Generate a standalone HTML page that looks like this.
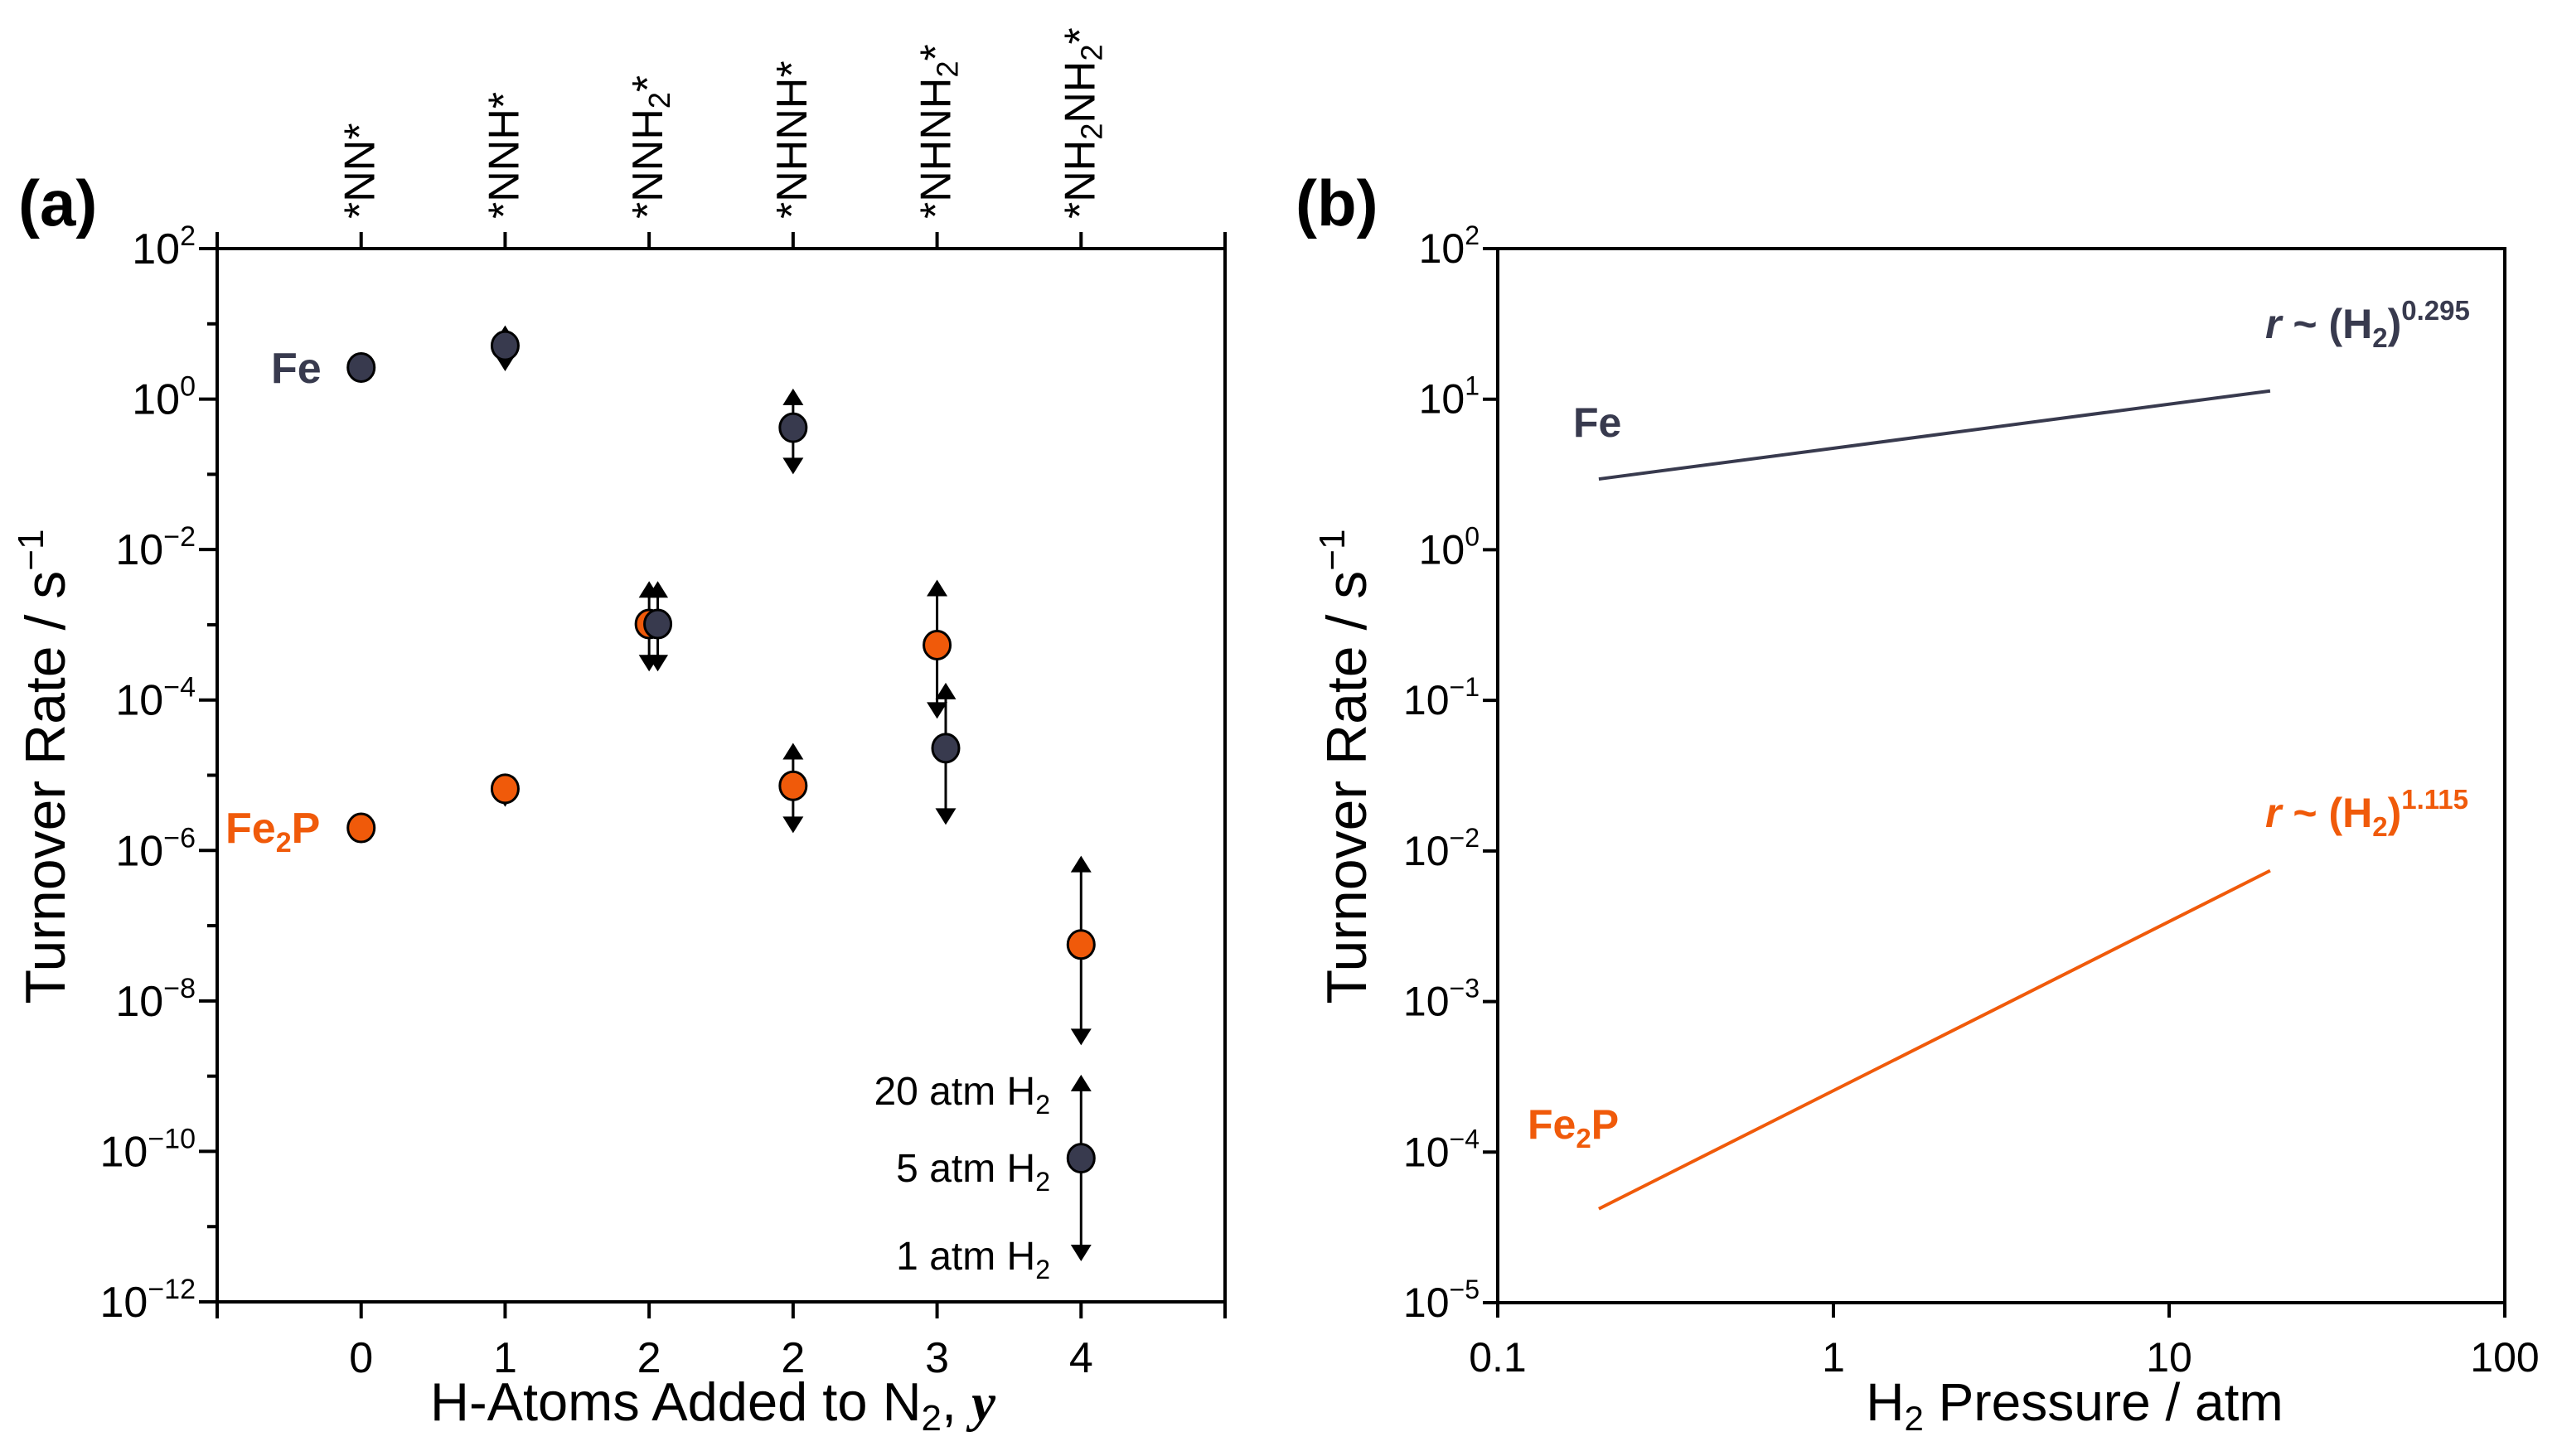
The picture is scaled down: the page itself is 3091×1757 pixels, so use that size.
<!DOCTYPE html>
<html><head><meta charset="utf-8"><style>
html,body{margin:0;padding:0;background:#fff;}
svg{display:block;font-family:"Liberation Sans",sans-serif;}
.narrow{font-family:"Liberation Sans Narrow","Liberation Sans",sans-serif;}
</style></head><body>
<svg id="fig" width="3091" height="1757" viewBox="0 0 3091 1757" xmlns="http://www.w3.org/2000/svg">
<g id="pa"></g>
<g id="pb"></g>
</svg>
<script>
// ---------- Panel (a) data ----------
const aCategories = ["*NN*","*NNH*","*NNH2*","*NHNH*","*NHNH2*","*NH2NH2*"];
const aBottomLabels = ["0","1","2","2","3","4"];
const aYTickExps = [2,0,-2,-4,-6,-8,-10,-12];
// log10 turnover rate: center, upper (20 atm), lower (1 atm); null = no arrows
const feCenter = [0.42, 0.71, -2.99, -0.38, -4.64, -10.09];
const feHigh   = [null, 0.98, -2.42, 0.14, -3.77, -8.98];
const feLow    = [null, 0.37, -3.62, -1.0, -5.66, -11.46];
const feOffset = [0, 0, 0.06, 0, 0.06, 0];
const fe2pCenter = [-5.70, -5.18, -2.99, -5.14, -3.27, -7.25];
const fe2pHigh   = [null, -4.98, -2.42, -4.57, -2.40, -6.07];
const fe2pLow    = [null, -5.42, -3.62, -5.77, -4.25, -8.59];
// ---------- Panel (b) data ----------
const bXTicks = [0.1, 1, 10, 100];
const bXTickLabels = ["0.1","1","10","100"];
const bYTickExps = [2,1,0,-1,-2,-3,-4,-5];
const fePressure = [0.2, 20];
const feRate = [2.95, 11.35];
const fe2pPressure = [0.2, 20];
const fe2pRate = [4.2e-5, 7.4e-3];

const NS="http://www.w3.org/2000/svg";
function mk(parent,tag,attrs){const e=document.createElementNS(NS,tag);for(const k in attrs)e.setAttribute(k,attrs[k]);parent.appendChild(e);return e;}
const FE="#383a4e", FE2P="#f05a0a";

// ===== Panel a =====
const pa=document.getElementById('pa');
const aL=262,aR=1478,aT=300,aB=1571;
const ax=v=>aL+(v+1)*(aR-aL)/7;
const ay=L=>aT+(2-L)*(aB-aT)/14;
let fr=mk(pa,'rect',{x:aL,y:aT,width:aR-aL,height:aB-aT,fill:'none',stroke:'#000','stroke-width':4});


for(let i=-1;i<=6;i++){
  const t1=mk(pa,'line',{x1:ax(i),x2:ax(i),y1:aB,y2:aB+20,stroke:'#000','stroke-width':4});
  
  
  const t2=mk(pa,'line',{x1:ax(i),x2:ax(i),y1:aT,y2:aT-20,stroke:'#000','stroke-width':4});
  
  
}
aBottomLabels.forEach((s,i)=>{
  const t=mk(pa,'text',{x:ax(i),y:1656,'text-anchor':'middle','font-size':52,class:'narrow'});t.textContent=s;
  
  
});
const topLabelHTML=['*NN*','*NNH*','*NNH<tspan font-size="36" dy="9">2</tspan><tspan dy="-9">*</tspan>','*NHNH*','*NHNH<tspan font-size="36" dy="9">2</tspan><tspan dy="-9">*</tspan>','*NH<tspan font-size="36" dy="9">2</tspan><tspan dy="-9">NH</tspan><tspan font-size="36" dy="9">2</tspan><tspan dy="-9">*</tspan>'];
aCategories.forEach((c,i)=>{
  const t=mk(pa,'text',{x:0,y:0,'font-size':52,transform:`translate(${ax(i)+16},264) rotate(-90)`});
  t.innerHTML=topLabelHTML[i];
  
  
});
for(let L=2;L>=-12;L--){
  const maj=(L%2===0);
  const t=mk(pa,'line',{x1:aL,x2:aL-(maj?22:12),y1:ay(L),y2:ay(L),stroke:'#000','stroke-width':4});
  
  
}
aYTickExps.forEach(e=>{
  const t=mk(pa,'text',{x:aL-26,y:ay(e)+18,'text-anchor':'end','font-size':52,class:'narrow'});
  t.innerHTML=`10<tspan font-size="34" dy="-22">${e<0?'\u2212'+(-e):e}</tspan>`;
  
  
});
function arrowHead(g,x,yTip,up){
  const h=20,w=12.5;const yb=up?yTip+h:yTip-h;
  const p=mk(g,'polygon',{points:`${x},${yTip} ${x-w},${yb} ${x+w},${yb}`,fill:'#000'});
  
  
}
function series(center,high,low,offset,color,name){
  const g=mk(pa,'g',{});
  
  
  center.forEach((c,i)=>{
    const x=ax(i+offset[i]);
    if(high[i]!==null){
      const l=mk(g,'line',{x1:x,x2:x,y1:ay(high[i])+10,y2:ay(low[i])-10,stroke:'#000','stroke-width':3});
      
      
      arrowHead(g,x,ay(high[i]),true);arrowHead(g,x,ay(low[i]),false);
    }
    const m=mk(g,'ellipse',{cx:x,cy:ay(c),rx:16,ry:17,fill:color,stroke:'#000','stroke-width':3});
    
    
  });
}
series(fe2pCenter,fe2pHigh,fe2pLow,[0,0,0,0,0,0],FE2P,'fe2p');
series(feCenter,feHigh,feLow,feOffset,FE,'fe');
</script>
<script>
(function(){
const pa=document.getElementById('pa');
function T(parent,attrs,html,name){const e=document.createElementNS(NS,'text');for(const k in attrs)e.setAttribute(k,attrs[k]);e.innerHTML=html;parent.appendChild(e);

return e;}
T(pa,{x:22,y:272,'font-size':78,'font-weight':'bold'},'(a)','panel-a-label');
T(pa,{x:327,y:462,'font-size':52,'font-weight':'bold',fill:FE},'Fe','fe-label-a');
T(pa,{x:272,y:1017,'font-size':52,'font-weight':'bold',fill:FE2P},'Fe<tspan font-size="34" dy="11">2</tspan><tspan dy="-11">P</tspan>','fe2p-label-a');
T(pa,{x:1267,y:1333,'font-size':48,'text-anchor':'end'},'20 atm H<tspan font-size="32" dy="11">2</tspan>','legend-20atm');
T(pa,{x:1267,y:1426,'font-size':48,'text-anchor':'end'},'5 atm H<tspan font-size="32" dy="11">2</tspan>','legend-5atm');
T(pa,{x:1267,y:1532,'font-size':48,'text-anchor':'end'},'1 atm H<tspan font-size="32" dy="11">2</tspan>','legend-1atm');
T(pa,{x:860,y:1714,'font-size':65,'text-anchor':'middle',class:'narrow'},'H-Atoms Added to N<tspan font-size="44" dy="12">2</tspan><tspan dy="-12">, </tspan><tspan font-family="Liberation Serif" font-style="italic" font-weight="bold">y</tspan>','x-axis-title-a');
T(pa,{x:0,y:0,'font-size':68,'text-anchor':'middle',transform:'translate(78,925) rotate(-90)'},'Turnover Rate / s<tspan font-size="44" dy="-26">\u22121</tspan>','y-axis-title-a');
})();
</script>
<script>
// ===== Panel b =====
const pb=document.getElementById('pb');
const bL=1807,bR=3022,bT=300,bB=1572;
const bx=p=>bL+(Math.log10(p)+1)*(bR-bL)/3;
const by=v=>bT+(2-Math.log10(v))*(bB-bT)/7;
const byL=L=>bT+(2-L)*(bB-bT)/7;
let frb=mk(pb,'rect',{x:bL,y:bT,width:bR-bL,height:bB-bT,fill:'none',stroke:'#000','stroke-width':4});


bXTicks.forEach((p,i)=>{
  const t=mk(pb,'line',{x1:bx(p),x2:bx(p),y1:bB,y2:bB+18,stroke:'#000','stroke-width':4});
  
  
  const l=mk(pb,'text',{x:bx(p),y:1655,'text-anchor':'middle','font-size':50});l.textContent=bXTickLabels[i];
  
  
});
bYTickExps.forEach((e,i)=>{
  const y=byL(2-i);
  const t=mk(pb,'line',{x1:bL,x2:bL-18,y1:y,y2:y,stroke:'#000','stroke-width':4});
  
  
  const l=mk(pb,'text',{x:bL-22,y:y+17,'text-anchor':'end','font-size':50});
  l.innerHTML=`10<tspan font-size="32" dy="-22">${e<0?'\u2212'+(-e):e}</tspan>`;
  
  
});
const feLine=mk(pb,'polyline',{points:fePressure.map((p,i)=>bx(p)+','+by(feRate[i])).join(' '),fill:'none',stroke:FE,'stroke-width':4});


const fe2pLine=mk(pb,'polyline',{points:fe2pPressure.map((p,i)=>bx(p)+','+by(fe2pRate[i])).join(' '),fill:'none',stroke:FE2P,'stroke-width':4});


(function(){
function T(attrs,html,name){const e=document.createElementNS(NS,'text');for(const k in attrs)e.setAttribute(k,attrs[k]);e.innerHTML=html;pb.appendChild(e);

return e;}
T({x:1563,y:272,'font-size':78,'font-weight':'bold'},'(b)','panel-b-label');
T({x:1898,y:527,'font-size':50,'font-weight':'bold',fill:FE},'Fe','fe-label-b');
T({x:1843,y:1374,'font-size':50,'font-weight':'bold',fill:FE2P},'Fe<tspan font-size="33" dy="11">2</tspan><tspan dy="-11">P</tspan>','fe2p-label-b');
T({x:2733,y:408,'font-size':50,'font-weight':'bold',fill:FE},'<tspan font-style="italic">r</tspan> ~ (H<tspan font-size="33" dy="11">2</tspan><tspan dy="-11">)</tspan><tspan font-size="33" dy="-22">0.295</tspan>','fe-order-label');
T({x:2733,y:998,'font-size':50,'font-weight':'bold',fill:FE2P},'<tspan font-style="italic">r</tspan> ~ (H<tspan font-size="33" dy="11">2</tspan><tspan dy="-11">)</tspan><tspan font-size="33" dy="-22">1.115</tspan>','fe2p-order-label');
T({x:2503,y:1714,'font-size':64,'text-anchor':'middle'},'H<tspan font-size="42" dy="12">2</tspan><tspan dy="-12"> Pressure / atm</tspan>','x-axis-title-b');
T({x:0,y:0,'font-size':68,'text-anchor':'middle',transform:'translate(1648,925) rotate(-90)'},'Turnover Rate / s<tspan font-size="44" dy="-26">\u22121</tspan>','y-axis-title-b');
})();
</script>
</body></html>
